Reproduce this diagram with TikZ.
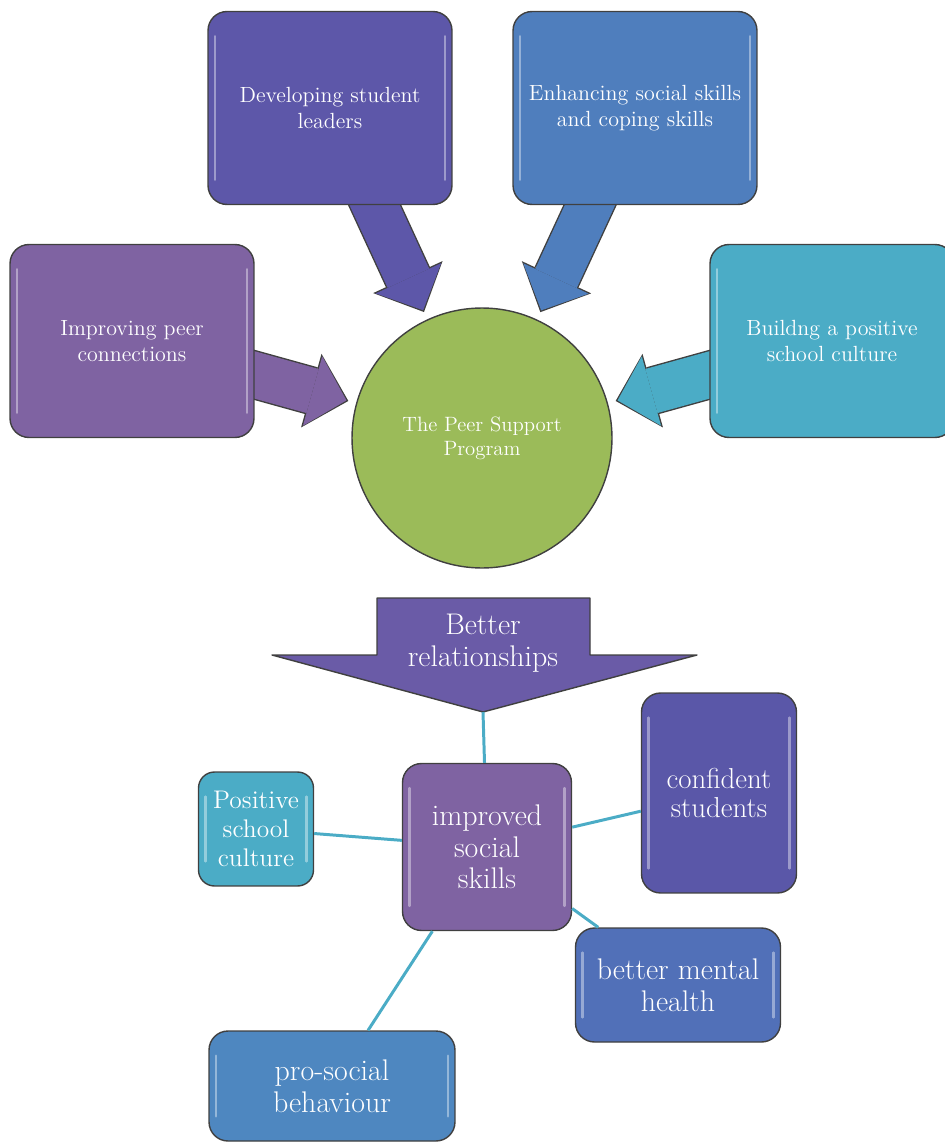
\documentclass[tikz,border=0pt]{standalone}
\usepackage{fontspec}
\usetikzlibrary{arrows.meta,backgrounds}

\definecolor{leaderblue}{HTML}{5D57A9}
\definecolor{skillblue}{HTML}{4F7EBD}
\definecolor{peerpurple}{HTML}{7F63A2}
\definecolor{cultureaqua}{HTML}{4BACC6}
\definecolor{programgreen}{HTML}{9BBB59}
\definecolor{relviolet}{HTML}{6A5BA7}
\definecolor{confindigo}{HTML}{5A57A8}
\definecolor{healthblue}{HTML}{5170B8}
\definecolor{behavblue}{HTML}{4E87C0}

\begin{document}
\begin{tikzpicture}[
    x=0.02cm, y=-0.02cm,
    gloss/.style={
        path picture={
            \draw[white, opacity=0.4, line width=1.3pt, line cap=round]
                ([xshift=4pt,yshift=-14pt]path picture bounding box.north west) --
                ([xshift=4pt,yshift=14pt]path picture bounding box.south west)
                ([xshift=-4pt,yshift=-14pt]path picture bounding box.north east) --
                ([xshift=-4pt,yshift=14pt]path picture bounding box.south east);
        }
    },
    box/.style={
        rectangle,
        rounded corners=0.38cm,
        draw=black!75,
        line width=0.8pt,
        text=white,
        align=center,
        gloss
    },
    topbox/.style={
        box,
        minimum width=4.88cm,
        minimum height=3.86cm,
        font=\fontsize{12.5}{14.5}\selectfont
    },
    lowbox/.style={
        box,
        font=\fontsize{17}{18}\selectfont
    },
    hub/.style={
        circle,
        draw=black!75,
        line width=0.8pt,
        fill=programgreen,
        minimum size=5.2cm,
        text=white,
        align=center,
        font=\fontsize{11.8}{13.6}\selectfont
    },
    feed/.style={
        draw=#1,
        line width=26pt,
        -{Triangle[length=20pt,width=41pt,line width=0pt]},
        shorten <=-0.6cm,
        shorten >=0.2cm,
        preaction={
            draw=black!75,
            line width=27.6pt,
            -{Triangle[length=21.9pt,width=43.5pt,line width=0pt]},
            shorten >=4.57pt
        }
    },
    bigarrow/.style={
        draw=black!75,
        line width=0.8pt,
        fill=relviolet,
        line join=round
    },
    link/.style={draw=cultureaqua, line width=1.7pt}
]
\useasboundingbox (0,0) rectangle (944,1142);

% Four aims
\node[topbox, fill=leaderblue] (leaders) at (330,108) {Developing student\\leaders};
\node[topbox, fill=skillblue] (coping) at (635,108) {Enhancing social skills\\and coping skills};
\node[topbox, fill=peerpurple] (connect) at (132,341) {Improving peer\\connections};
\node[topbox, fill=cultureaqua] (culture) at (832,341) {Buildng a positive\\school culture};

% Program
\node[hub] (program) at (482,438) {The Peer Support\\Program};

\begin{scope}[on background layer]
\draw[feed=leaderblue] (leaders) -- (program);
\draw[feed=skillblue] (coping) -- (program);
\draw[feed=peerpurple] (connect) -- (program);
\draw[feed=cultureaqua] (culture) -- (program);
\end{scope}

% Outcome arrow
\coordinate (bettertip) at (483,712);
\draw[bigarrow] (377,598) -- (590,598) -- (590,655) -- (697,655) -- (bettertip)
    -- (272,655) -- (377,655) -- cycle;
\node[text=white, align=center, font=\fontsize{17}{18.5}\selectfont] (better) at (483,643) {Better\\relationships};

% Outcomes
\node[lowbox, fill=peerpurple, minimum width=3.38cm, minimum height=3.34cm] (social) at (487,847) {improved\\social\\skills};
\node[lowbox, fill=cultureaqua, minimum width=2.3cm, minimum height=2.28cm, rounded corners=0.32cm, font=\fontsize{14.5}{16.4}\selectfont] (positive) at (256,829) {Positive\\school\\culture};
\node[lowbox, fill=confindigo, minimum width=3.1cm, minimum height=4cm, font=\fontsize{16.4}{16.6}\selectfont] (confident) at (719,793) {confident\\students};
\node[lowbox, fill=healthblue, minimum width=4.1cm, minimum height=2.28cm] (health) at (678,985) {better mental\\health};
\node[lowbox, fill=behavblue, minimum width=4.92cm, minimum height=2.2cm] (prosocial) at (332,1086) {pro-social\\behaviour};

\draw[link] (bettertip) -- (social);
\draw[link] (social) -- (positive);
\draw[link] (social) -- (confident);
\draw[link] (social) -- (health);
\draw[link] (social) -- (prosocial);

\end{tikzpicture}
\end{document}
